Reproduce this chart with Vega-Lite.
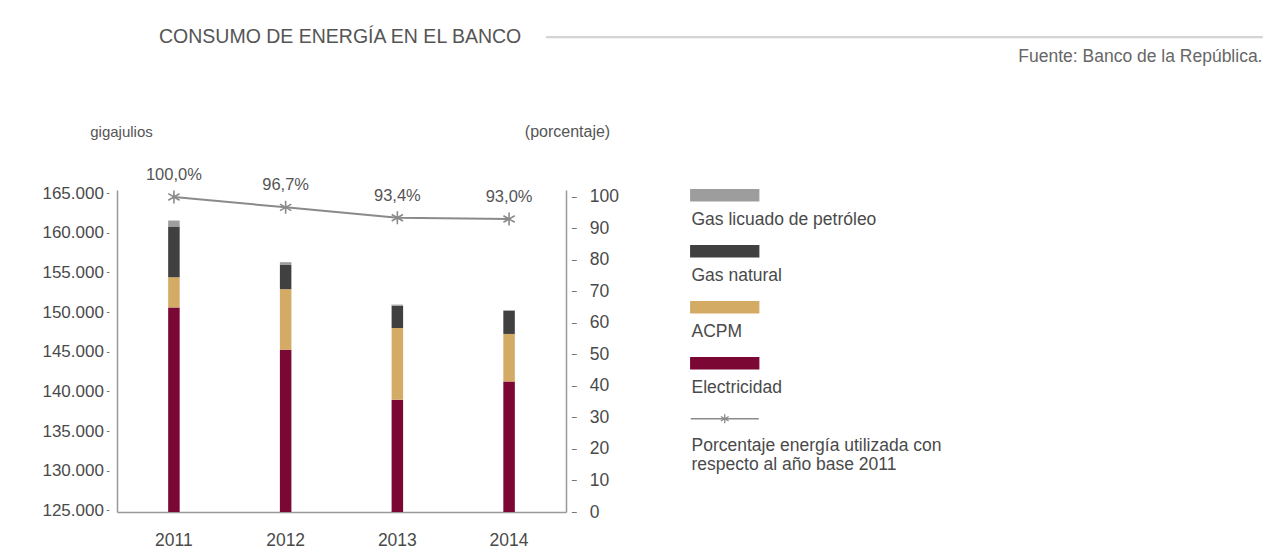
{
  "$schema": "https://vega.github.io/schema/vega-lite/v6.json",
  "width": 449,
  "height": 322,
  "autosize": {"type": "none"},
  "padding": {"left": 117, "top": 190, "right": 710, "bottom": 47},
  "background": "white",
  "config": {
    "locale": {"number": {"decimal": ",", "thousands": ".", "grouping": [3], "currency": ["$", ""]}},
    "font": "Liberation Sans",
    "view": {"stroke": null}
  },
  "title": {
    "text": "CONSUMO DE ENERGÍA EN EL BANCO",
    "anchor": "start",
    "frame": "group",
    "font": "Liberation Sans",
    "fontSize": 19.5,
    "fontWeight": "normal",
    "color": "#555555",
    "dx": 42,
    "offset": -17
  },
  "datasets": {
    "energia": [
      {"anio": "2011", "fuente": "Electricidad", "valor": 150600, "orden": 1},
      {"anio": "2011", "fuente": "ACPM", "valor": 3800, "orden": 2},
      {"anio": "2011", "fuente": "Gas natural", "valor": 6400, "orden": 3},
      {"anio": "2011", "fuente": "Gas licuado de petróleo", "valor": 750, "orden": 4},
      {"anio": "2012", "fuente": "Electricidad", "valor": 145250, "orden": 1},
      {"anio": "2012", "fuente": "ACPM", "valor": 7650, "orden": 2},
      {"anio": "2012", "fuente": "Gas natural", "valor": 3050, "orden": 3},
      {"anio": "2012", "fuente": "Gas licuado de petróleo", "valor": 350, "orden": 4},
      {"anio": "2013", "fuente": "Electricidad", "valor": 138950, "orden": 1},
      {"anio": "2013", "fuente": "ACPM", "valor": 9050, "orden": 2},
      {"anio": "2013", "fuente": "Gas natural", "valor": 2800, "orden": 3},
      {"anio": "2013", "fuente": "Gas licuado de petróleo", "valor": 150, "orden": 4},
      {"anio": "2014", "fuente": "Electricidad", "valor": 141250, "orden": 1},
      {"anio": "2014", "fuente": "ACPM", "valor": 6000, "orden": 2},
      {"anio": "2014", "fuente": "Gas natural", "valor": 2900, "orden": 3},
      {"anio": "2014", "fuente": "Gas licuado de petróleo", "valor": 100, "orden": 4}
    ],
    "porcentaje": [
      {"anio": "2011", "pct": 100.0, "etiqueta": "100,0%"},
      {"anio": "2012", "pct": 96.7, "etiqueta": "96,7%"},
      {"anio": "2013", "pct": 93.4, "etiqueta": "93,4%"},
      {"anio": "2014", "pct": 93.0, "etiqueta": "93,0%"}
    ]
  },
  "layer": [
    {
      "data": {"name": "energia"},
      "mark": {"type": "bar", "clip": true},
      "encoding": {
        "x": {
          "field": "anio",
          "type": "ordinal",
          "scale": {"paddingInner": 0.897, "paddingOuter": 0.458},
          "axis": {
            "orient": "bottom",
            "title": "Fuente: Banco de la República.",
            "titleX": 1145,
            "titleY": -456,
            "titleAlign": "right",
            "titleBaseline": "middle",
            "titleFontSize": 17.5,
            "titleFontWeight": "normal",
            "titleColor": "#666666",
            "labelAngle": 0,
            "ticks": false,
            "labelPadding": 19,
            "labelFontSize": 17.5,
            "labelColor": "#4a4a4a",
            "domainColor": "#999999",
            "domainWidth": 1.5
          }
        },
        "y": {
          "field": "valor",
          "type": "quantitative",
          "stack": "zero",
          "scale": {"domain": [124800, 165400], "zero": false, "nice": false},
          "axis": {
            "values": [125000, 130000, 135000, 140000, 145000, 150000, 155000, 160000, 165000],
            "format": ",.0f",
            "grid": false,
            "title": "gigajulios",
            "titleAngle": 0,
            "titleAlign": "center",
            "titleBaseline": "middle",
            "titleX": 4,
            "titleY": -59,
            "titleFontSize": 15,
            "titleFontWeight": "normal",
            "titleColor": "#555555",
            "labelFontSize": 17,
            "labelColor": "#4a4a4a",
            "labelPadding": 3,
            "tickSize": 10.6,
            "tickDash": [0, 8, 2.6, 20],
            "tickColor": "#777777",
            "domainColor": "#999999",
            "domainWidth": 1.5
          }
        },
        "color": {
          "field": "fuente",
          "type": "nominal",
          "scale": {
            "domain": ["Gas licuado de petróleo", "Gas natural", "ACPM", "Electricidad", "Porcentaje energía utilizada con respecto al año base 2011"],
            "range": ["#9d9d9d", "#404040", "#d3ab65", "#7b0735", "#8a8a8a"]
          },
          "legend": {
            "orient": "none",
            "legendX": 567,
            "legendY": 21,
            "title": null,
            "padding": 0,
            "symbolSize": 4,
            "symbolStrokeWidth": 0,
            "symbolOpacity": 1,
            "symbolType": "M-2,-30H66V-19H-2Z",
            "labelOffset": -10,
            "rowPadding": 14,
            "labelFont": "Liberation Sans",
            "labelFontSize": 17.5,
            "labelColor": "#4a4a4a",
            "labelLimit": 400,
            "labelExpr": "indexof(datum.label, 'Porcentaje') == 0 ? ['Porcentaje energía utilizada con', 'respecto al año base 2011'] : datum.label",
            "encode": {
              "symbols": {
                "update": {
                  "shape": {"signal": "indexof(datum.value, 'Porcentaje') == 0 ? 'M-2,-27H66M32,-31.5V-22.5M28.1,-29.25L35.9,-24.75M28.1,-24.75L35.9,-29.25' : 'M-2,-30H66V-19H-2Z'"},
                  "fill": {"signal": "indexof(datum.value, 'Porcentaje') == 0 ? 'transparent' : scale('color', datum.value)"},
                  "stroke": {"signal": "indexof(datum.value, 'Porcentaje') == 0 ? '#8a8a8a' : 'transparent'"},
                  "strokeWidth": {"value": 1.3},
                  "opacity": {"value": 1}
                }
              },
              "labels": {"update": {"lineHeight": {"value": 19.5}}}
            }
          }
        },
        "order": {"field": "orden", "type": "quantitative"}
      }
    },
    {
      "data": {"name": "porcentaje"},
      "encoding": {
        "x": {
          "field": "anio",
          "type": "ordinal",
          "axis": {
            "orient": "top",
            "labels": false,
            "ticks": false,
            "domain": false,
            "title": "━━━━━━━━━━━━━━━━━━━━━━━━━━━━━━━━━━━━━━━━━━━━━━━━━━━━━━━━━━━━━━━━━━━━━━━━━━━━━━━━━━━━━",
            "titleFont": "DejaVu Sans Mono",
            "titleX": 1145,
            "titleY": -153,
            "titleAlign": "right",
            "titleBaseline": "middle",
            "titleFontSize": 14,
            "titleFontWeight": "normal",
            "titleColor": "#d4d4d4",
            "titleLimit": 2000
          }
        },
        "y": {
          "field": "pct",
          "type": "quantitative",
          "scale": {"domain": [0, 102.2], "nice": false, "zero": true},
          "axis": {
            "orient": "right",
            "values": [0, 10, 20, 30, 40, 50, 60, 70, 80, 90, 100],
            "grid": false,
            "title": "(porcentaje)",
            "titleAngle": 0,
            "titleAlign": "center",
            "titleBaseline": "middle",
            "titleX": 1,
            "titleY": -59,
            "titleFontSize": 16,
            "titleFontWeight": "normal",
            "titleColor": "#555555",
            "labelFontSize": 17.5,
            "labelColor": "#4a4a4a",
            "labelPadding": 13,
            "tickSize": 10.3,
            "tickDash": [0, 5.3, 5, 20],
            "tickColor": "#777777",
            "domainColor": "#999999",
            "domainWidth": 1.5
          }
        }
      },
      "layer": [
        {
          "mark": {"type": "line", "strokeWidth": 2},
          "encoding": {"color": {"datum": "Porcentaje energía utilizada con respecto al año base 2011"}}
        },
        {
          "mark": {"type": "point", "shape": "M0,-1V1M-0.866,-0.5L0.866,0.5M-0.866,0.5L0.866,-0.5", "filled": false, "size": 170, "strokeWidth": 1.6, "opacity": 1},
          "encoding": {"color": {"datum": "Porcentaje energía utilizada con respecto al año base 2011"}}
        },
        {
          "mark": {"type": "text", "dy": -22, "fontSize": 16.5, "color": "#555555"},
          "encoding": {"text": {"field": "etiqueta"}}
        }
      ]
    }
  ],
  "resolve": {"scale": {"y": "independent"}, "axis": {"x": "independent"}}
}
